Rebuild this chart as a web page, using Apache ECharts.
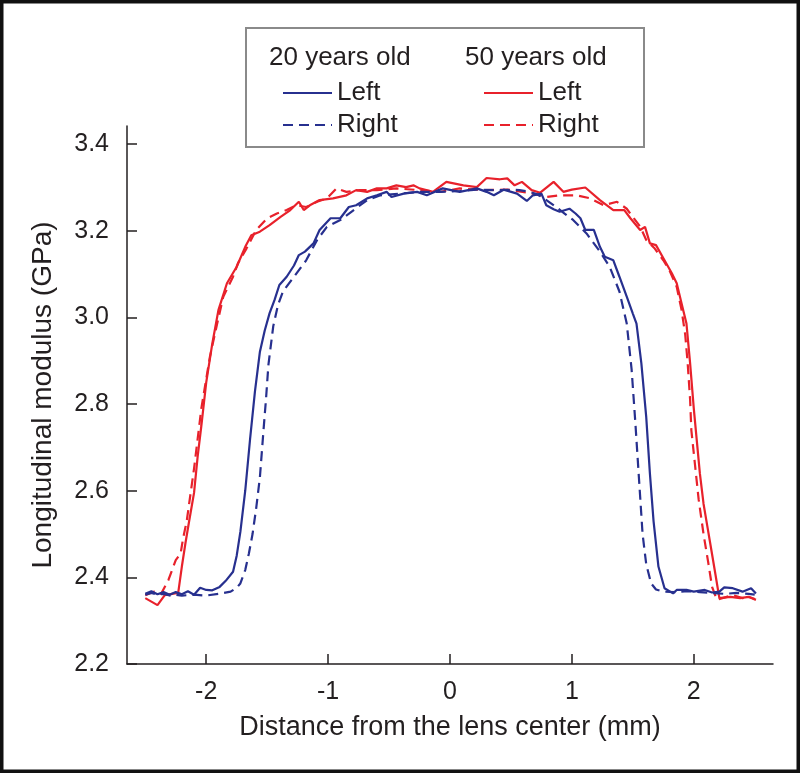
<!DOCTYPE html>
<html><head><meta charset="utf-8">
<script src="https://cdn.jsdelivr.net/npm/echarts@6/dist/echarts.min.js"></script>
<style>html,body{margin:0;padding:0;background:#fff}#c{width:800px;height:773px}</style>
</head><body><div id="c"></div>
<script>
// Tick values
const xTicks = [-2, -1, 0, 1, 2];
const yTicks = [2.2, 2.4, 2.6, 2.8, 3.0, 3.2, 3.4];

// 20 years old, Left (solid blue)
const left20X = [-2.50,-2.45,-2.40,-2.35,-2.30,-2.25,-2.20,-2.15,-2.10,-2.05,-2.00,-1.95,-1.89,-1.84,-1.78,-1.75,-1.72,-1.68,-1.64,-1.60,-1.56,-1.52,-1.48,-1.44,-1.40,-1.34,-1.28,-1.24,-1.19,-1.12,-1.07,-0.98,-0.90,-0.83,-0.77,-0.68,-0.60,-0.52,-0.48,-0.38,-0.27,-0.19,-0.06,0.08,0.22,0.30,0.36,0.44,0.55,0.63,0.68,0.75,0.79,0.85,0.90,0.98,1.03,1.07,1.11,1.18,1.23,1.27,1.34,1.39,1.45,1.50,1.53,1.57,1.61,1.64,1.67,1.71,1.76,1.83,1.86,1.94,2.00,2.09,2.15,2.21,2.25,2.32,2.40,2.47,2.51];
const left20Y = [2.362,2.368,2.361,2.366,2.360,2.366,2.361,2.368,2.360,2.376,2.371,2.370,2.378,2.392,2.413,2.450,2.505,2.600,2.720,2.830,2.920,2.970,3.010,3.040,3.075,3.094,3.120,3.144,3.152,3.171,3.202,3.229,3.229,3.255,3.259,3.275,3.282,3.290,3.278,3.286,3.290,3.282,3.298,3.290,3.298,3.290,3.282,3.295,3.286,3.269,3.282,3.286,3.259,3.250,3.244,3.251,3.240,3.229,3.202,3.202,3.163,3.140,3.132,3.094,3.048,3.009,2.986,2.894,2.770,2.640,2.530,2.425,2.375,2.363,2.371,2.371,2.367,2.371,2.365,2.367,2.377,2.375,2.367,2.375,2.363];

// 20 years old, Right (dashed blue)
const right20X = [-2.50,-2.45,-2.40,-2.35,-2.30,-2.25,-2.20,-2.10,-2.00,-1.90,-1.80,-1.75,-1.72,-1.68,-1.65,-1.62,-1.59,-1.56,-1.53,-1.51,-1.49,-1.45,-1.41,-1.37,-1.28,-1.18,-1.09,-1.01,-0.90,-0.79,-0.68,-0.57,-0.41,-0.25,-0.08,0.08,0.22,0.38,0.52,0.57,0.65,0.71,0.77,0.87,0.94,1.01,1.12,1.23,1.31,1.39,1.45,1.49,1.52,1.55,1.58,1.61,1.65,1.69,1.75,1.85,1.95,2.05,2.15,2.25,2.35,2.45,2.50];
const right20Y = [2.360,2.364,2.360,2.362,2.358,2.360,2.358,2.360,2.358,2.362,2.367,2.376,2.386,2.417,2.455,2.500,2.560,2.630,2.740,2.810,2.890,2.980,3.030,3.060,3.094,3.132,3.179,3.209,3.225,3.248,3.271,3.282,3.286,3.290,3.290,3.292,3.295,3.294,3.295,3.294,3.290,3.285,3.275,3.255,3.240,3.225,3.194,3.152,3.117,3.060,2.986,2.880,2.760,2.630,2.500,2.430,2.386,2.372,2.367,2.366,2.368,2.366,2.364,2.362,2.364,2.362,2.360];

// 50 years old, Left (solid red)
const left50X = [-2.50,-2.45,-2.40,-2.34,-2.28,-2.23,-2.20,-2.17,-2.14,-2.10,-2.07,-2.04,-2.00,-1.95,-1.90,-1.83,-1.75,-1.68,-1.63,-1.56,-1.48,-1.39,-1.31,-1.24,-1.20,-1.15,-1.07,-0.96,-0.85,-0.77,-0.68,-0.60,-0.52,-0.44,-0.36,-0.30,-0.25,-0.14,-0.03,0.11,0.22,0.30,0.41,0.47,0.53,0.59,0.67,0.74,0.85,0.93,1.00,1.11,1.23,1.34,1.43,1.48,1.56,1.60,1.64,1.69,1.76,1.82,1.86,1.90,1.94,1.97,2.00,2.02,2.05,2.08,2.11,2.14,2.17,2.21,2.30,2.38,2.45,2.51];
const left50Y = [2.352,2.344,2.336,2.359,2.362,2.364,2.425,2.480,2.530,2.595,2.680,2.750,2.850,2.940,3.017,3.079,3.117,3.163,3.190,3.198,3.213,3.232,3.248,3.267,3.248,3.259,3.271,3.275,3.282,3.294,3.290,3.298,3.298,3.305,3.301,3.305,3.298,3.290,3.313,3.305,3.301,3.322,3.319,3.321,3.305,3.313,3.294,3.288,3.313,3.290,3.295,3.300,3.271,3.248,3.248,3.229,3.202,3.209,3.171,3.167,3.132,3.102,3.079,3.032,2.986,2.894,2.790,2.730,2.640,2.570,2.520,2.470,2.420,2.352,2.355,2.352,2.355,2.348];

// 50 years old, Right (dashed red)
const right50X = [-2.50,-2.43,-2.37,-2.31,-2.25,-2.21,-2.19,-2.16,-2.10,-2.04,-1.97,-1.91,-1.86,-1.78,-1.74,-1.67,-1.59,-1.50,-1.42,-1.34,-1.26,-1.18,-1.09,-1.01,-0.93,-0.85,-0.74,-0.60,-0.44,-0.25,-0.08,0.08,0.27,0.47,0.68,0.79,0.90,1.04,1.15,1.26,1.37,1.45,1.50,1.56,1.61,1.68,1.75,1.80,1.86,1.90,1.93,1.95,1.97,1.98,2.01,2.04,2.08,2.12,2.15,2.19,2.27,2.32,2.40,2.45,2.50];
const right50Y = [2.359,2.367,2.362,2.394,2.440,2.455,2.490,2.530,2.651,2.790,2.909,2.986,3.048,3.094,3.125,3.159,3.202,3.229,3.240,3.248,3.259,3.255,3.267,3.275,3.298,3.290,3.294,3.294,3.298,3.294,3.290,3.298,3.294,3.295,3.286,3.278,3.282,3.282,3.275,3.259,3.267,3.251,3.232,3.210,3.179,3.159,3.132,3.109,3.071,3.017,2.960,2.894,2.810,2.740,2.660,2.580,2.500,2.432,2.378,2.348,2.355,2.359,2.352,2.355,2.350];

const FONT = '"Liberation Sans", Arial, Helvetica, sans-serif';
const TXT = '#231f20';
const BLUE = '#27308f';
const RED = '#e8212b';
const pair = (xs, ys) => xs.map((x, i) => [x, ys[i]]);

const mkSeries = (name, xs, ys, color, dashed) => ({
  name, type: 'line', data: pair(xs, ys), symbol: 'none', showSymbol: false,
  lineStyle: { color, width: 2.2, type: dashed ? [10, 6] : 'solid' },
  itemStyle: { color }
});

const mkLegend = (names, left) => ({
  data: names, left, top: 75, orient: 'vertical', itemWidth: 49, itemHeight: 14, itemGap: 6,
  selectedMode: false, formatter: n => n.split(' ')[1],
  itemStyle: { opacity: 0 },
  textStyle: { fontSize: 26, color: TXT, fontFamily: FONT }
});

const chart = echarts.init(document.getElementById('c'), null, { renderer: 'canvas' });
chart.setOption({
  animation: false,
  backgroundColor: '#fff',
  grid: { left: 127, top: 126, width: 646, height: 538 },
  xAxis: {
    type: 'value', min: -2.65, max: 2.65,
    axisLine: { show: true, onZero: false, lineStyle: { color: TXT, width: 1.5 } },
    splitLine: { show: false },
    axisTick: { show: true, inside: true, length: 10, customValues: xTicks, lineStyle: { color: TXT, width: 1.5 } },
    axisLabel: { customValues: xTicks, fontSize: 25, color: TXT, margin: 16, fontFamily: FONT },
    name: 'Distance from the lens center (mm)', nameLocation: 'middle', nameGap: 50,
    nameTextStyle: { fontSize: 27, color: TXT, fontFamily: FONT }
  },
  yAxis: {
    type: 'value', min: 2.2, max: 3.442,
    axisLine: { show: true, onZero: false, lineStyle: { color: TXT, width: 1.5 } },
    splitLine: { show: false },
    axisTick: { show: true, inside: true, length: 10, customValues: yTicks, lineStyle: { color: TXT, width: 1.5 } },
    axisLabel: { customValues: yTicks, formatter: v => v.toFixed(1), fontSize: 25, color: TXT, margin: 18, fontFamily: FONT },
    name: 'Longitudinal modulus (GPa)', nameLocation: 'middle', nameGap: 70, nameRotate: 90,
    nameTextStyle: { fontSize: 28, color: TXT, fontFamily: FONT }
  },
  legend: [mkLegend(['20 Left', '20 Right'], 277), mkLegend(['50 Left', '50 Right'], 478)],
  graphic: [
    { type: 'rect', z: 0, shape: { x: 1.75, y: 1.75, width: 796.5, height: 769.5 }, style: { fill: 'none', stroke: '#111', lineWidth: 3.5 } },
    { type: 'rect', z: 1, shape: { x: 246, y: 28, width: 398, height: 119 }, style: { fill: '#fff', stroke: '#8a8a8a', lineWidth: 2 } },
    { type: 'text', z: 2, x: 269, y: 58, style: { text: '20 years old', fontSize: 26, fontFamily: FONT, fill: TXT, align: 'left', verticalAlign: 'middle' } },
    { type: 'text', z: 2, x: 465, y: 58, style: { text: '50 years old', fontSize: 26, fontFamily: FONT, fill: TXT, align: 'left', verticalAlign: 'middle' } }
  ],
  series: [
    mkSeries('50 Left', left50X, left50Y, RED, false),
    mkSeries('50 Right', right50X, right50Y, RED, true),
    mkSeries('20 Left', left20X, left20Y, BLUE, false),
    mkSeries('20 Right', right20X, right20Y, BLUE, true)
  ]
});
</script>
</body></html>
